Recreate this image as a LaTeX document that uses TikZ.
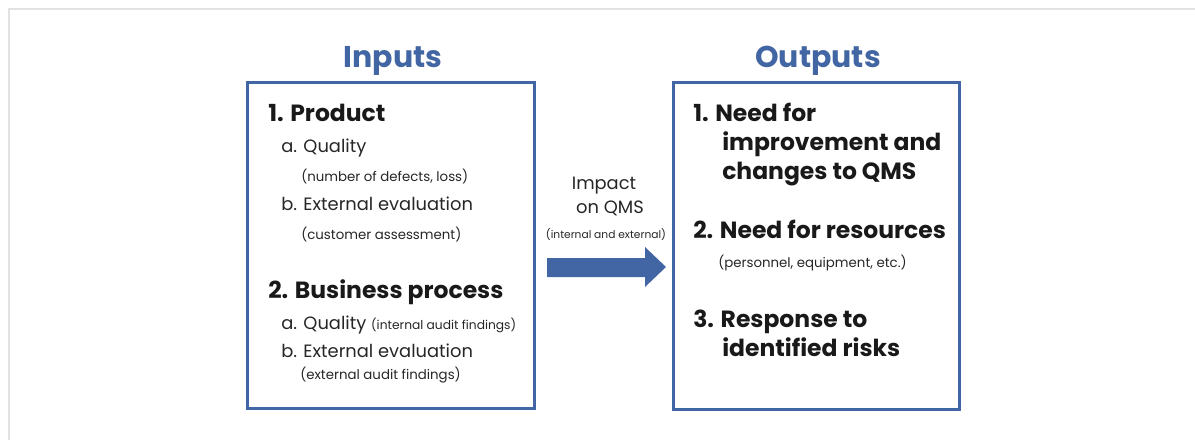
\documentclass[tikz,border=0pt]{standalone}
\usepackage{fontspec}
\setmainfont{Poppins}
\usetikzlibrary{positioning}
\definecolor{qmsblue}{RGB}{66,102,163}
\definecolor{framegray}{RGB}{226,226,226}

\begin{document}
\begin{tikzpicture}[x=0.75pt, y=-0.75pt,
        panel/.style={rectangle, draw=qmsblue, line width=2.2pt,
                      minimum width=215pt, minimum height=245pt, inner sep=0pt},
        title/.style={anchor=base, text=qmsblue, inner sep=0pt,
                      font=\fontsize{22.5}{27}\selectfont\bfseries},
        head/.style={anchor=base west, text=black!90, inner sep=0pt,
                     font=\fontsize{17.6}{21}\selectfont\bfseries},
        item/.style={anchor=base west, text=black!85, inner sep=0pt,
                     font=\fontsize{13.4}{16}\selectfont},
        note/.style={anchor=base west, text=black!85, inner sep=0pt,
                     font=\fontsize{10}{12}\selectfont}
    ]
        \useasboundingbox (0,0) rectangle (1195,440);
        \draw[framegray, line width=1.5pt] (8.5,440) -- (8.5,8.5) -- (1195,8.5);

        % the two panels
        \node[panel] (inbox)  at (391,245.5) {};
        \node[panel] (outbox) at (816.5,246) {};
        \node[title] (intitle)  at (393,67) {Inputs};
        \node[title] (outtitle) at (818,67) {Outputs};

        % inputs
        \node[head] (prod)  at (268,121) {1. Product};
        \node[item] (pqual) at (281,152) {a. Quality};
        \node[note] (pdef)  at (301,181) {(number of defects, loss)};
        \node[item] (pext)  at (281,210) {b. External evaluation};
        \node[note] (pcust) at (301,239) {(customer assessment)};
        \node[head] (bus)   at (268,298) {2. Business process};
        \node[item] (bqual) at (281,329) {a. Quality \fontsize{9.2}{11}\selectfont(internal audit findings)};
        \node[item] (bext)  at (281,357) {b. External evaluation};
        \node[note] (baud)  at (300,379) {(external audit findings)};

        % impact arrow
        \node[item, anchor=base] (imp1) at (604,189) {Impact};
        \node[item, anchor=base] (imp2) at (610,213) {on QMS};
        \node[note, anchor=base, font=\fontsize{8}{10}\selectfont] (imp3) at (606,238) {(internal and external)};
        \fill[qmsblue] (547,258) -- (645,258) -- (645,247) -- (666,267)
            -- (645,287) -- (645,277) -- (547,277) -- cycle;

        % outputs
        \node[head] (need)  at (693,121) {1. Need for};
        \node[head] (need2) at (722,150) {improvement and};
        \node[head] (need3) at (722,179) {changes to QMS};
        \node[head] (res)   at (693,238) {2. Need for resources};
        \node[note] (res2)  at (718,267) {(personnel, equipment, etc.)};
        \node[head] (risk)  at (693,327) {3. Response to};
        \node[head] (risk2) at (722,356) {identified risks};
    \end{tikzpicture}
\end{document}
